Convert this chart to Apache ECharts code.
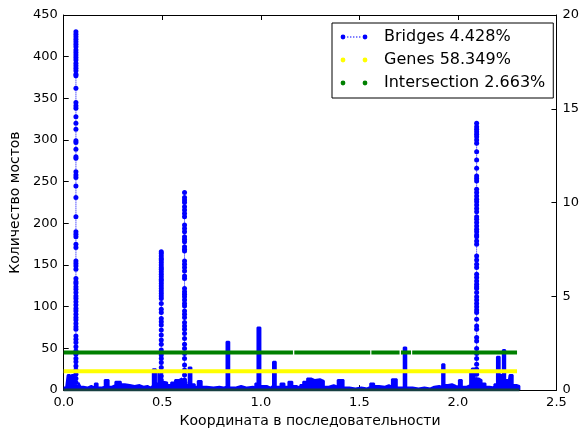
<!DOCTYPE html>
<html>
<head>
<meta charset="utf-8">
<script src="https://cdn.jsdelivr.net/npm/echarts@6/dist/echarts.min.js"></script>
<style>
html,body{margin:0;padding:0;background:#fff;}
#chart{width:582px;height:433px;}
</style>
</head>
<body>
<div id="chart"></div>
<script>
// ---------- data ----------
var legendLabels = ['Bridges 4.428%', 'Genes 58.349%', 'Intersection 2.663%'];
var xTicks = [0.0, 0.5, 1.0, 1.5, 2.0, 2.5];
var leftTicks = [0, 50, 100, 150, 200, 250, 300, 350, 400, 450];
var rightTicks = [0, 5, 10, 15, 20];

// low-level bridge counts (x coordinate, count)
var bridgesProfile = [
  [0.000,3],[0.012,4],[0.020,18],[0.032,9],[0.040,18],[0.052,5],[0.075,9],[0.085,4],[0.100,3],[0.120,5],
  [0.140,3],[0.158,8],[0.172,3],[0.190,4],[0.208,12],[0.228,4],[0.245,6],[0.262,10],[0.290,7],[0.310,6],
  [0.335,5],[0.360,6],[0.385,4],[0.405,5],[0.425,3],[0.440,5],[0.452,25],[0.468,8],[0.480,22],[0.488,10],
  [0.505,9],[0.525,6],[0.545,9],[0.565,12],[0.585,14],[0.600,10],[0.622,6],[0.634,27],[0.648,7],[0.665,4],
  [0.680,11],[0.700,4],[0.725,3],[0.760,4],[0.790,3],[0.810,4],[0.826,58],[0.840,3],[0.870,5],[0.900,3],
  [0.930,4],[0.960,3],[0.972,8],[0.983,75],[0.998,5],[1.030,3],[1.050,5],[1.062,34],[1.076,4],[1.100,8],
  [1.120,4],[1.140,10],[1.160,5],[1.180,3],[1.200,6],[1.215,10],[1.235,14],[1.255,12],[1.275,13],[1.300,11],
  [1.320,4],[1.345,6],[1.370,4],[1.390,12],[1.420,3],[1.450,2],[1.480,3],[1.510,2],[1.540,4],[1.555,8],
  [1.575,5],[1.600,4],[1.630,6],[1.650,4],[1.665,13],[1.690,3],[1.725,51],[1.738,3],[1.770,2],[1.800,3],
  [1.830,2],[1.860,4],[1.880,5],[1.905,4],[1.920,31],[1.932,6],[1.950,7],[1.970,5],[1.990,4],[2.005,12],
  [2.020,4],[2.045,6],[2.062,20],[2.072,26],[2.085,14],[2.105,12],[2.120,8],[2.140,4],[2.160,3],[2.185,7],
  [2.198,40],[2.212,18],[2.228,48],[2.240,12],[2.255,6],[2.262,18],[2.278,6],[2.300,5],[2.312,0]
];

// tall bridge spikes: position and the counts read along each column
var spikeX = [0.062, 0.495, 0.613, 2.095];
var spike1 = [430,427,424,421,418,415,412,408,405,402,399,396,392,389,386,383,379,377,362,345,341,338,328,320,313,299,297,289,280,278,262,258,255,245,231,208,190,187,184,175,171,155,152,149,145,134,130,128,124,121,117,113,110,106,102,98,95,91,87,84,80,76,73,65,61,57,52,47,43,38,34,29,24,19,14,9,4];
var spike2 = [166,164,161,158,156,153,150,147,145,142,139,136,133,131,128,125,122,119,116,113,110,104,97,93,86,82,78,72,66,60,55,48,42,38,33,27,22,17,12,6];
var spike3 = [237,231,228,225,220,216,212,208,198,194,190,184,181,178,172,169,167,155,151,147,143,137,134,122,118,115,112,108,104,101,95,91,87,81,77,73,68,62,55,50,44,38,30,24,18,12,6];
var spike4 = [320,316,313,310,307,304,300,296,286,276,266,257,254,251,241,237,233,229,226,222,218,214,208,205,201,197,193,190,186,184,179,175,161,156,151,147,139,135,131,127,124,122,117,112,108,104,100,96,93,85,77,73,63,59,50,44,38,31,25,19,12,6];
var spikeValues = [spike1, spike2, spike3, spike4];

// genes / intersection tracks (right axis)
var genesLevel = 1;
var genesRange = [0, 2.30];
var intersectionLevel = 2;
var intersectionSegments = [[0, 1.163], [1.170, 1.555], [1.561, 1.704], [1.711, 1.762], [1.768, 2.30]];
var baseRange = [0, 2.312];

// ---------- build series ----------
var spikeData = [];
spikeX.forEach(function (x, i) {
  spikeValues[i].forEach(function (v) { spikeData.push([x, v]); });
  spikeData.push(null);
});

var interData = [];
intersectionSegments.forEach(function (s) {
  interData.push([s[0], intersectionLevel]);
  interData.push([s[1], intersectionLevel]);
  interData.push(null);
});

var BLUE = '#0000ff', YELLOW = '#ffff00', GREEN = '#008000';
var FONT = 'DejaVu Sans';

function dots(n0, step, count) {
  var p = '';
  for (var i = 0; i < count; i++) {
    var x = n0 + i * step;
    p += 'M' + x + ',2.6h1.4v0.9h-1.4z';
  }
  return p;
}
var circ = function (cx) { return 'M' + (cx - 2.4) + ',3a2.4,2.4 0 1,0 4.8,0a2.4,2.4 0 1,0 -4.8,0z'; };
var iconBridges = 'path://' + circ(3) + circ(25) + dots(7.0, 3.0, 5) + 'M0,0h0.01v0.01h-0.01z M27.99,5.99h0.01v0.01h-0.01z';
var iconPair = 'path://' + circ(3) + circ(25) + 'M0,0h0.01v0.01h-0.01z M27.99,5.99h0.01v0.01h-0.01z';

var chart = echarts.init(document.getElementById('chart'), null, {renderer: 'canvas'});
var axisCommon = {
  axisLine: {show: true, onZero: false, lineStyle: {color: '#000', width: 1}},
  axisTick: {show: true, inside: true, length: 5, lineStyle: {color: '#000'}},
  splitLine: {show: false},
  axisLabel: {color: '#000', fontFamily: FONT, fontSize: 13}
};

chart.setOption({
  animation: false,
  backgroundColor: '#fff',
  grid: {left: 63, right: 22, top: 15, bottom: 34, containLabel: false},
  legend: {
    orient: 'vertical',
    left: 332, top: 23,
    padding: [6, 8, 7, 8],
    itemGap: 7,
    itemWidth: 28, itemHeight: 6,
    borderColor: '#000', borderWidth: 1, backgroundColor: '#fff',
    textStyle: {fontFamily: FONT, fontSize: 16, color: '#000', padding: [0, 2, 0, 11]},
    data: [
      {name: legendLabels[0], icon: iconBridges},
      {name: legendLabels[1], icon: iconPair},
      {name: legendLabels[2], icon: iconPair}
    ]
  },
  xAxis: [
    Object.assign({}, axisCommon, {
      type: 'value', position: 'bottom', min: xTicks[0], max: xTicks[xTicks.length - 1], interval: 0.5,
      axisLabel: Object.assign({}, axisCommon.axisLabel, {margin: 6, formatter: function (v) { return v.toFixed(1); }}),
      name: 'Координата в последовательности', nameLocation: 'middle', nameGap: 14,
      nameTextStyle: {fontFamily: FONT, fontSize: 14, color: '#000', verticalAlign: 'top'}
    }),
    Object.assign({}, axisCommon, {
      type: 'value', position: 'top', min: xTicks[0], max: xTicks[xTicks.length - 1], interval: 0.5,
      axisLabel: {show: false}
    })
  ],
  yAxis: [
    Object.assign({}, axisCommon, {
      type: 'value', position: 'left', min: leftTicks[0], max: leftTicks[leftTicks.length - 1], interval: 50,
      axisLabel: Object.assign({}, axisCommon.axisLabel, {margin: 6}),
      name: 'Количество мостов', nameLocation: 'middle', nameGap: 40,
      nameTextStyle: {fontFamily: FONT, fontSize: 14, color: '#000'}
    }),
    Object.assign({}, axisCommon, {
      type: 'value', position: 'right', min: rightTicks[0], max: rightTicks[rightTicks.length - 1], interval: 5,
      axisLabel: Object.assign({}, axisCommon.axisLabel, {margin: 6})
    })
  ],
  series: [
    {
      name: legendLabels[0], type: 'line', xAxisIndex: 0, yAxisIndex: 0,
      data: bridgesProfile, step: 'end', symbol: 'none',
      lineStyle: {color: BLUE, width: 2}, itemStyle: {color: BLUE},
      areaStyle: {color: BLUE, opacity: 1}, z: 2
    },
    {
      name: legendLabels[0], type: 'line', xAxisIndex: 0, yAxisIndex: 0,
      data: spikeData, connectNulls: false, symbol: 'circle', symbolSize: 5,
      lineStyle: {color: BLUE, width: 1, type: 'dotted'}, itemStyle: {color: BLUE}, z: 3
    },
    {
      name: legendLabels[1], type: 'line', xAxisIndex: 0, yAxisIndex: 1,
      data: [[genesRange[0], genesLevel], [genesRange[1], genesLevel]], symbol: 'none',
      lineStyle: {color: YELLOW, width: 4}, itemStyle: {color: YELLOW}, z: 4
    },
    {
      name: legendLabels[2], type: 'line', xAxisIndex: 0, yAxisIndex: 1,
      data: interData, connectNulls: false, symbol: 'none',
      lineStyle: {color: GREEN, width: 4}, itemStyle: {color: GREEN}, z: 5
    },
    {
      name: legendLabels[2], type: 'line', xAxisIndex: 0, yAxisIndex: 1,
      data: [[baseRange[0], 0], [baseRange[1], 0]], symbol: 'none',
      lineStyle: {color: '#163f40', width: 3}, itemStyle: {color: GREEN}, z: 5
    }
  ]
});
</script>
</body>
</html>
